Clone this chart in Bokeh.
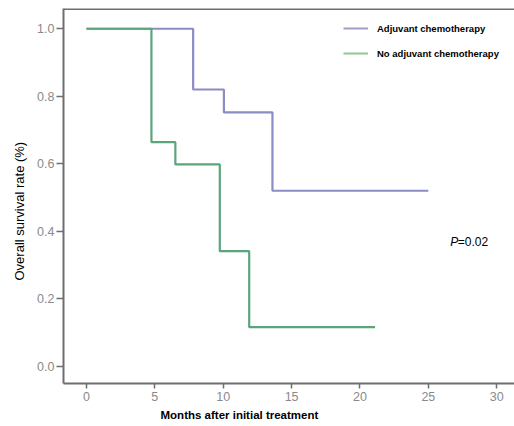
from bokeh.plotting import figure
from bokeh.models import Range1d, Span, Legend, LegendItem, Label, FixedTicker, Title
from bokeh.embed import file_html
from bokeh.resources import INLINE

# Kaplan-Meier step data (months, survival)
adj_months = [0, 7.8, 10.05, 13.6, 25.0]
adj_surv = [1.0, 0.82, 0.752, 0.52, 0.52]
noadj_months = [0, 4.75, 6.5, 9.75, 11.9, 21.1]
noadj_surv = [1.0, 0.664, 0.598, 0.341, 0.116, 0.116]
x_ticks = [0, 5, 10, 15, 20, 25, 30]
y_ticks = [0.0, 0.2, 0.4, 0.6, 0.8, 1.0]

PURPLE = "#8c8cc4"
GREEN = "#5aa57a"
AXIS = "#6e6e6e"

p = figure(width=514, height=426, output_backend="svg", toolbar_location=None,
           x_range=Range1d(-1.68, 31.3), y_range=Range1d(-0.051, 1.06),
           min_border_left=63, min_border_right=0, min_border_top=8, min_border_bottom=43)
p.outline_line_color = None
p.grid.visible = False
p.background_fill_color = "white"

r1 = p.step(adj_months, adj_surv, mode="after", line_color=PURPLE, line_width=2.2)
r2 = p.step(noadj_months, noadj_surv, mode="after", line_color=GREEN, line_width=2.2)

# top frame line
p.add_layout(Span(location=1.06, dimension="width", line_color=AXIS, line_width=3))

for ax in (p.xaxis[0], p.yaxis[0]):
    ax.axis_line_color = AXIS
    ax.axis_line_width = 2
    ax.major_tick_line_color = AXIS
    ax.major_tick_line_width = 1.5
    ax.major_tick_in = 0
    ax.minor_tick_line_color = None
    ax.major_label_text_color = "#8a8a8a"
    ax.major_label_text_font = "Liberation Sans"
    ax.major_label_text_font_size = "12.5px"

p.xaxis.ticker = FixedTicker(ticks=x_ticks)
p.yaxis.ticker = FixedTicker(ticks=y_ticks)
p.yaxis.major_label_overrides = {v: f"{v:.1f}" for v in y_ticks}
p.xaxis.major_tick_out = 5
p.yaxis.major_tick_out = 7
p.xaxis.major_label_standoff = 3
p.yaxis.major_label_standoff = 2

# axis titles as side titles so they can be offset like the reference
xt = Title(text="Months after initial treatment", align="left", offset=97,
           text_font="Liberation Sans", text_font_size="11.5px", text_font_style="bold",
           text_color="black", standoff=6)
p.add_layout(xt, "below")
yt = Title(text="Overall survival rate (%)", align="left", offset=103,
           text_font="Liberation Sans", text_font_size="13px", text_font_style="normal",
           text_color="black", standoff=15)
p.add_layout(yt, "left")

# legend proxies (drawn outside the visible range) with the lighter legend colours
l1 = p.line([-50, -49], [-5, -5], line_color="#9e9ec8", line_width=2)
l2 = p.line([-50, -49], [-5, -5], line_color="#8cc890", line_width=2)
legend = Legend(items=[LegendItem(label="Adjuvant chemotherapy", renderers=[l1]),
                       LegendItem(label="No adjuvant chemotherapy", renderers=[l2])],
                location=(280, 320), orientation="vertical")
legend.border_line_color = None
legend.background_fill_alpha = 0
legend.padding = 0
legend.margin = 0
legend.spacing = 5
legend.glyph_width = 25
legend.glyph_height = 20
legend.label_height = 20
legend.label_standoff = 9
legend.label_text_font = "Liberation Sans"
legend.label_text_font_size = "9.5px"
legend.label_text_font_style = "bold"
legend.label_text_color = "black"
p.add_layout(legend, "center")

# P value annotation
p.add_layout(Label(x=26.6, y=0.367, text="P", text_font="Liberation Sans", text_font_size="12px",
                   text_font_style="italic", text_color="black", text_baseline="middle"))
p.add_layout(Label(x=27.15, y=0.367, text="=0.02", text_font="Liberation Sans", text_font_size="12px",
                   text_color="black", text_baseline="middle"))

open("out.html", "w").write(file_html(p, INLINE))
